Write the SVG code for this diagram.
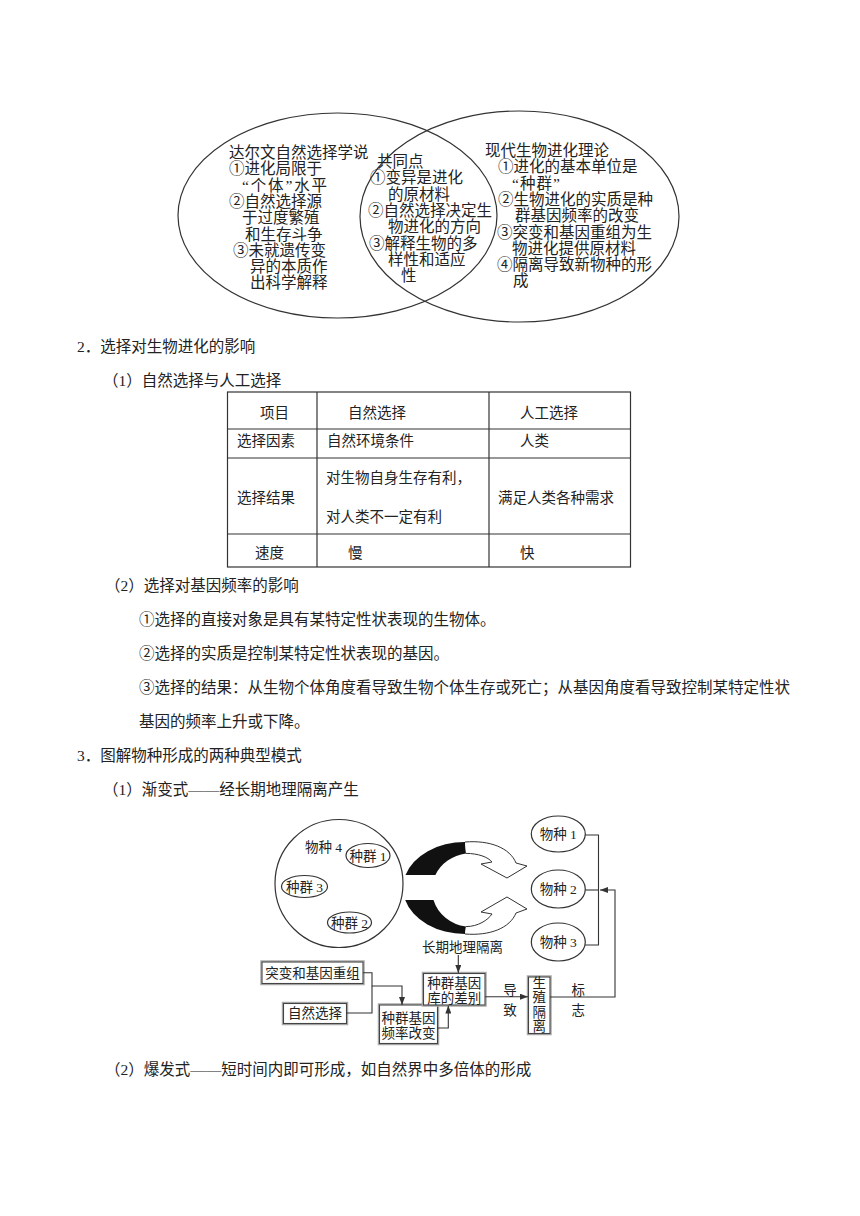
<svg xmlns="http://www.w3.org/2000/svg" width="860" height="1216" viewBox="0 0 860 1216">
<style>
.t{font-family:"Liberation Serif","Noto Sans CJK SC",serif;fill:#222}
.v{font-size:15.5px}
.b{font-size:15.5px}
.tb{font-size:14.5px}
.f{font-size:13.5px}
.ln{fill:none;stroke:#333;stroke-width:1.2}
.box{fill:#fff;stroke:#444;stroke-width:1.1}
.sh{fill:none;stroke:#aaa;stroke-width:1.5}
.cn{fill:none;stroke:#333;stroke-width:1.1}
.tbl{fill:none;stroke:#333;stroke-width:1.2}
</style>
<defs>
<marker id="ah" markerUnits="userSpaceOnUse" markerWidth="8" markerHeight="6" refX="8" refY="3" orient="auto">
<path d="M0,0 L8,3 L0,6 Z" fill="#333"/>
</marker>
</defs>
<rect width="860" height="1216" fill="#fff"/>

<!-- Venn -->
<g id="venn">
<ellipse class="ln" cx="337.5" cy="215.5" rx="159.5" ry="102.5"/>
<ellipse class="ln" cx="519.5" cy="216.5" rx="159.5" ry="105.5"/>
</g>
<g id="venn-left" class="t v">
<text x="229" y="158">达尔文自然选择学说</text>
<text x="229" y="174.3">①进化局限于</text>
<text x="242" y="190.6" textLength="85" lengthAdjust="spacing">“个体”水平</text>
<text x="229" y="206.9">②自然选择源</text>
<text x="242" y="223.2">于过度繁殖</text>
<text x="245" y="239.5">和生存斗争</text>
<text x="233" y="255.8">③未就遗传变</text>
<text x="250" y="272.1">异的本质作</text>
<text x="250" y="288.4">出科学解释</text>
</g>
<g id="venn-mid" class="t v">
<text x="377" y="167">共同点</text>
<text x="370" y="183.3">①变异是进化</text>
<text x="388" y="199.6">的原材料</text>
<text x="368" y="215.9">②自然选择决定生</text>
<text x="388" y="232.2">物进化的方向</text>
<text x="369" y="248.5">③解释生物的多</text>
<text x="388" y="264.8">样性和适应</text>
<text x="401" y="281.1">性</text>
</g>
<g id="venn-right" class="t v">
<text x="485" y="156">现代生物进化理论</text>
<text x="498" y="172.3">①进化的基本单位是</text>
<text x="512" y="188.6" textLength="48" lengthAdjust="spacing">“种群”</text>
<text x="498" y="204.9">②生物进化的实质是种</text>
<text x="515" y="221.2">群基因频率的改变</text>
<text x="497" y="237.5">③突变和基因重组为生</text>
<text x="512" y="253.8">物进化提供原材料</text>
<text x="497" y="270.1">④隔离导致新物种的形</text>
<text x="513" y="286.4">成</text>
</g>

<!-- headings -->
<g id="text1" class="t b">
<text x="77" y="351.5">2．选择对生物进化的影响</text>
<text x="103" y="385.5">（1）自然选择与人工选择</text>
</g>

<!-- table -->
<g id="table">
<rect class="tbl" x="227.5" y="392" width="403" height="175"/>
<line class="tbl" x1="227.5" y1="429" x2="630.5" y2="429"/>
<line class="tbl" x1="227.5" y1="458" x2="630.5" y2="458"/>
<line class="tbl" x1="227.5" y1="534" x2="630.5" y2="534"/>
<line class="tbl" x1="317" y1="392" x2="317" y2="567"/>
<line class="tbl" x1="489" y1="392" x2="489" y2="567"/>
<g class="t tb">
<text x="260" y="418">项目</text>
<text x="348" y="418">自然选择</text>
<text x="520" y="418">人工选择</text>
<text x="237" y="446">选择因素</text>
<text x="327" y="446">自然环境条件</text>
<text x="520" y="446">人类</text>
<text x="237" y="502.5">选择结果</text>
<text x="326" y="482.5">对生物自身生存有利，</text>
<text x="326" y="521.5">对人类不一定有利</text>
<text x="498" y="502.5">满足人类各种需求</text>
<text x="255" y="558">速度</text>
<text x="348" y="558">慢</text>
<text x="520" y="558">快</text>
</g>
</g>

<g id="text2" class="t b">
<text x="105" y="590.5">（2）选择对基因频率的影响</text>
<text x="139" y="624.5">①选择的直接对象是具有某特定性状表现的生物体。</text>
<text x="139" y="658.5">②选择的实质是控制某特定性状表现的基因。</text>
<text x="139" y="692.5">③选择的结果：从生物个体角度看导致生物个体生存或死亡；从基因角度看导致控制某特定性状</text>
<text x="139" y="726.5">基因的频率上升或下降。</text>
<text x="77" y="760.5">3．图解物种形成的两种典型模式</text>
<text x="103" y="794.5">（1）渐变式——经长期地理隔离产生</text>
<text x="105" y="1074.5">（2）爆发式——短时间内即可形成，如自然界中多倍体的形成</text>
</g>

<!-- speciation figure -->
<g id="species4">
<circle class="ln" cx="339" cy="883.5" r="64" fill="#fff"/>
<text class="t f" x="305" y="851.5">物种 4</text>
</g>
<g id="pop1"><ellipse class="ln" cx="368" cy="855.5" rx="22" ry="12"/><text class="t f" x="368" y="860.5" text-anchor="middle">种群 1</text></g>
<g id="pop3"><ellipse class="ln" cx="304.5" cy="886.5" rx="23" ry="11"/><text class="t f" x="304.5" y="891.5" text-anchor="middle">种群 3</text></g>
<g id="pop2"><ellipse class="ln" cx="349.5" cy="922.5" rx="22" ry="10.5"/><text class="t f" x="349.5" y="927.5" text-anchor="middle">种群 2</text></g>

<g id="separation">
<path d="M465,842 A62,46 0 0 0 405.5,875 L435.4,875 A40,37 0 0 1 466,853.4 Z" fill="#111"/>
<path d="M465,934 A62,46 0 0 1 405.2,900 L433.5,900 A40,37 0 0 0 466,926.6 Z" fill="#111"/>
<path d="M465,842 C490,840 510,848 516,863 L527,866 L507,878 L481,864 L492,862 C488,857 478,853.4 466,853.4" fill="#fff" stroke="#333" stroke-width="1"/>
<path d="M465,934 C490,936 510,928 516,913 L527,909 L507,897 L481,912 L492,914 C488,920 478,926.6 466,926.6" fill="#fff" stroke="#333" stroke-width="1"/>
</g>

<g id="sp1"><ellipse class="ln" cx="558.3" cy="834" rx="27" ry="18"/><text class="t f" x="558.3" y="839" text-anchor="middle">物种 1</text></g>
<g id="sp2"><ellipse class="ln" cx="558.3" cy="889" rx="27" ry="19"/><text class="t f" x="558.3" y="894" text-anchor="middle">物种 2</text></g>
<g id="sp3"><ellipse class="ln" cx="558.3" cy="942" rx="27" ry="19"/><text class="t f" x="558.3" y="947" text-anchor="middle">物种 3</text></g>

<g id="geo"><text class="t f" x="462.5" y="951.5" text-anchor="middle">长期地理隔离</text></g>

<g id="mut">
<rect class="sh" x="261" y="961" width="103" height="23.5"/>
<rect class="box" x="262" y="962" width="101" height="21.5"/>
<text class="t f" x="312.5" y="977.5" text-anchor="middle">突变和基因重组</text>
</g>
<g id="natsel">
<rect class="sh" x="282.5" y="1002.5" width="65" height="22"/>
<rect class="box" x="283.5" y="1003.5" width="63" height="20"/>
<text class="t f" x="315" y="1018" text-anchor="middle">自然选择</text>
</g>
<g id="freq">
<rect class="sh" x="378.5" y="1004" width="60" height="40.5"/>
<rect class="box" x="379.5" y="1005" width="58" height="38.5"/>
<text class="t f" x="408.5" y="1023" text-anchor="middle">种群基因</text>
<text class="t f" x="408.5" y="1038" text-anchor="middle">频率改变</text>
</g>
<g id="pool">
<rect class="sh" x="422.5" y="972.5" width="63.5" height="33.5"/>
<rect class="box" x="423.5" y="973.5" width="61.5" height="31.5"/>
<text class="t f" x="454.3" y="987.5" text-anchor="middle">种群基因</text>
<text class="t f" x="454.3" y="1003" text-anchor="middle">库的差别</text>
</g>
<g id="repro">
<rect class="sh" x="527.5" y="976" width="23.5" height="58.5"/>
<rect class="box" x="528.5" y="977" width="21.5" height="56.5"/>
<g class="t f" text-anchor="middle">
<text x="539.3" y="987.5">生</text>
<text x="539.3" y="1002">殖</text>
<text x="539.3" y="1016.5">隔</text>
<text x="539.3" y="1031">离</text>
</g>
</g>

<g id="connectors">
<path class="cn" d="M585,835 H598.5 V945 H585"/>
<path class="cn" d="M585.3,890 H598.5"/>
<path class="cn" d="M458.3,955 V973" marker-end="url(#ah)"/>
<path class="cn" d="M363,972.7 H372 V986 H402 V1005" marker-end="url(#ah)"/>
<path class="cn" d="M346.5,1013 H372 V986"/>
<path class="cn" d="M437.5,1028 H448.3 V1005.5" marker-end="url(#ah)"/>
<path class="cn" d="M485,996.7 H528" marker-end="url(#ah)"/>
<path class="cn" d="M550,997 H615 V890 H600" marker-end="url(#ah)"/>
<g class="t f" text-anchor="middle">
<text x="510" y="994.5">导</text>
<text x="510" y="1014.5">致</text>
<text x="578.3" y="994.5">标</text>
<text x="578.3" y="1014.5">志</text>
</g>
</g>
</svg>
